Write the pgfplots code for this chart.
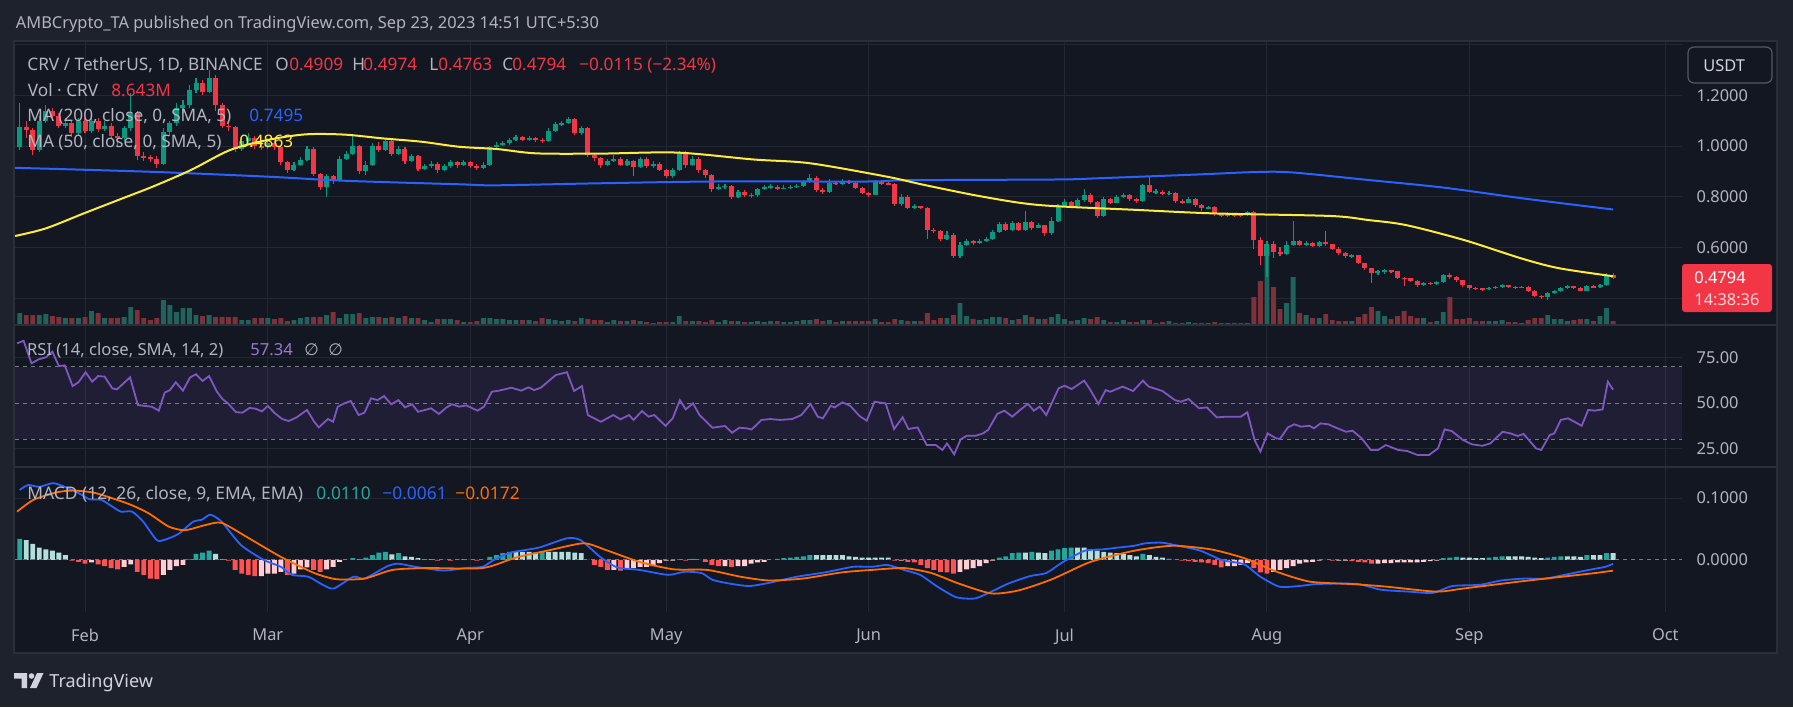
\documentclass[border=0pt]{standalone}
\usepackage{pgfplots}
\pgfplotsset{compat=1.18}
\usepackage{pgfplotstable}
\usepackage{fontspec}
\setmainfont{Noto Sans}
\newfontfamily\dejavu{DejaVu Sans}
\newcommand\fs{\fontsize{8.6pt}{10pt}\selectfont}
\newcommand\fst{\fontsize{8.2pt}{10pt}\selectfont}
\newcommand\fsp{\fontsize{8.3pt}{10pt}\selectfont}
\newcommand\fsm{\fontsize{8.7pt}{10pt}\selectfont}
\newcommand\fsk{\fontsize{8.2pt}{10pt}\selectfont}
\definecolor{outerbg}{HTML}{1E222D}
\definecolor{chartbg}{HTML}{131722}
\definecolor{gridc}{HTML}{232733}
\definecolor{sepc}{HTML}{2A2E39}
\definecolor{txt}{HTML}{B2B5BE}
\definecolor{txtl}{HTML}{D1D4DC}
\definecolor{upc}{HTML}{089981}
\definecolor{dnc}{HTML}{F23645}
\definecolor{vup}{HTML}{1F635C}
\definecolor{vdn}{HTML}{7F3139}
\definecolor{ma200}{HTML}{2962FF}
\definecolor{ma50}{HTML}{FFEB3B}
\definecolor{rsic}{HTML}{7E57C2}
\definecolor{dashc}{HTML}{787B86}
\definecolor{sigc}{HTML}{FF6D00}
\definecolor{hA}{HTML}{26A69A}
\definecolor{hB}{HTML}{B2DFDB}
\definecolor{hC}{HTML}{FF5252}
\definecolor{hD}{HTML}{FFCDD2}

\pgfplotstableread{
d o h l c v
-10 0.997 1.170 0.985 1.074 12
-9 1.074 1.100 1.030 1.063 10
-8 1.063 1.070 0.965 0.985 10
-7 0.985 1.120 0.975 1.100 10
-6 1.100 1.160 1.090 1.140 11
-5 1.140 1.150 1.100 1.120 9
-4 1.120 1.130 1.070 1.080 8
-3 1.080 1.110 1.070 1.092 7
-2 1.092 1.100 1.035 1.050 7
-1 1.050 1.110 1.040 1.100 7
0 1.100 1.110 1.050 1.060 8
1 1.060 1.120 1.050 1.100 14
2 1.100 1.110 1.055 1.068 12
3 1.068 1.100 1.060 1.080 7
4 1.080 1.090 1.030 1.040 7
5 1.040 1.050 1.000 1.030 7
6 1.030 1.080 1.020 1.070 8
7 1.070 1.210 1.060 1.130 18
8 1.130 1.140 0.945 0.962 15
9 0.962 0.975 0.940 0.955 7
10 0.955 0.965 0.935 0.950 5
11 0.950 0.960 0.915 0.930 7
12 0.930 1.070 0.925 1.055 25
13 1.055 1.100 1.040 1.090 20
14 1.090 1.170 1.080 1.150 13
15 1.150 1.180 1.130 1.160 17
16 1.160 1.240 1.150 1.220 17
17 1.220 1.270 1.210 1.250 10
18 1.250 1.260 1.200 1.215 9
19 1.215 1.300 1.210 1.270 10
20 1.270 1.280 1.140 1.160 8
21 1.160 1.170 1.070 1.080 8
22 1.080 1.100 1.060 1.075 8
23 1.075 1.080 0.975 0.990 8
24 0.990 1.030 0.980 1.020 5
25 1.020 1.050 1.010 1.030 5
26 1.030 1.040 0.990 1.000 7
27 1.000 1.020 0.985 0.995 7
28 0.995 1.020 0.990 1.010 7
29 1.010 1.020 0.985 0.995 6
30 0.995 1.000 0.925 0.935 7
31 0.935 0.940 0.895 0.905 4
32 0.905 0.935 0.900 0.925 5
33 0.925 0.955 0.920 0.945 7
34 0.945 1.000 0.940 0.990 8
35 0.990 0.995 0.880 0.890 8
36 0.890 0.895 0.825 0.840 8
37 0.840 0.890 0.800 0.880 10
38 0.880 0.885 0.850 0.865 13
39 0.865 0.960 0.860 0.950 7
40 0.950 0.980 0.945 0.970 11
41 0.970 1.040 0.965 1.000 11
42 1.000 1.005 0.890 0.900 12
43 0.900 0.940 0.885 0.925 7
44 0.925 1.010 0.920 1.000 8
45 1.000 1.015 0.975 0.985 8
46 0.985 1.030 0.980 1.020 7
47 1.020 1.025 0.960 0.970 8
48 0.970 1.000 0.965 0.990 7
49 0.990 0.995 0.930 0.940 9
50 0.940 0.970 0.935 0.960 7
51 0.960 0.965 0.900 0.910 7
52 0.910 0.930 0.905 0.920 5
53 0.920 0.940 0.915 0.930 3
54 0.930 0.935 0.895 0.905 6
55 0.905 0.930 0.900 0.920 6
56 0.920 0.945 0.915 0.935 6
57 0.935 0.940 0.915 0.925 5
58 0.925 0.945 0.920 0.935 3
59 0.935 0.940 0.915 0.922 3
60 0.922 0.930 0.905 0.915 4
61 0.915 0.935 0.910 0.925 7
62 0.925 1.000 0.920 0.995 7
63 0.995 1.015 0.990 1.005 6
64 1.005 1.020 1.000 1.012 6
65 1.012 1.030 1.005 1.024 5
66 1.024 1.045 1.020 1.035 5
67 1.035 1.040 1.020 1.025 5
68 1.025 1.040 1.020 1.030 5
69 1.030 1.035 1.015 1.025 4
70 1.025 1.030 1.010 1.020 7
71 1.020 1.070 1.015 1.060 6
72 1.060 1.095 1.055 1.085 5
73 1.085 1.100 1.080 1.090 4
74 1.090 1.115 1.085 1.105 5
75 1.105 1.110 1.045 1.050 4
76 1.050 1.080 1.045 1.072 7
77 1.072 1.075 0.955 0.965 6
78 0.965 0.970 0.940 0.952 5
79 0.952 0.955 0.915 0.925 5
80 0.925 0.950 0.920 0.940 3
81 0.940 0.965 0.935 0.950 5
82 0.950 0.955 0.920 0.925 4
83 0.925 0.950 0.920 0.940 4
84 0.940 0.945 0.882 0.918 5
85 0.918 0.955 0.915 0.950 4
86 0.950 0.955 0.915 0.920 3
87 0.920 0.940 0.915 0.930 2
88 0.930 0.935 0.900 0.905 3
89 0.905 0.910 0.875 0.882 3
90 0.882 0.915 0.875 0.905 3
91 0.905 0.980 0.900 0.974 9
92 0.974 0.980 0.915 0.925 4
93 0.925 0.960 0.920 0.950 4
94 0.950 0.955 0.895 0.905 4
95 0.905 0.910 0.875 0.885 3
96 0.885 0.890 0.820 0.830 5
97 0.830 0.850 0.825 0.840 3
98 0.840 0.850 0.830 0.843 5
99 0.843 0.845 0.790 0.800 4
100 0.800 0.825 0.795 0.818 4
101 0.818 0.825 0.800 0.805 3
102 0.805 0.815 0.795 0.807 3
103 0.807 0.835 0.800 0.830 4
104 0.830 0.845 0.825 0.838 3
105 0.838 0.850 0.830 0.840 4
106 0.840 0.845 0.825 0.832 4
107 0.832 0.845 0.830 0.836 3
108 0.836 0.845 0.830 0.838 3
109 0.838 0.850 0.835 0.843 4
110 0.843 0.865 0.840 0.858 5
111 0.858 0.890 0.855 0.872 5
112 0.872 0.880 0.820 0.826 6
113 0.826 0.835 0.810 0.820 4
114 0.820 0.870 0.815 0.855 5
115 0.855 0.860 0.845 0.850 3
116 0.850 0.870 0.845 0.862 4
117 0.862 0.865 0.850 0.855 4
118 0.855 0.860 0.830 0.835 4
119 0.835 0.840 0.810 0.815 4
120 0.815 0.820 0.800 0.808 4
121 0.808 0.865 0.805 0.860 6
122 0.860 0.865 0.845 0.852 3
123 0.852 0.860 0.845 0.850 3
124 0.850 0.855 0.765 0.771 6
125 0.771 0.810 0.765 0.800 5
126 0.800 0.805 0.750 0.755 4
127 0.755 0.770 0.750 0.762 4
128 0.762 0.765 0.750 0.757 4
129 0.757 0.760 0.635 0.669 12
130 0.669 0.675 0.655 0.665 5
131 0.665 0.668 0.625 0.632 7
132 0.632 0.665 0.630 0.650 7
133 0.650 0.655 0.560 0.566 10
134 0.566 0.620 0.560 0.609 22
135 0.609 0.635 0.605 0.625 9
136 0.625 0.630 0.610 0.620 6
137 0.620 0.632 0.615 0.625 5
138 0.625 0.640 0.620 0.633 6
139 0.633 0.670 0.628 0.662 8
140 0.662 0.700 0.655 0.692 8
141 0.692 0.700 0.665 0.670 7
142 0.670 0.705 0.665 0.695 5
143 0.695 0.700 0.665 0.670 6
144 0.670 0.745 0.665 0.700 10
145 0.700 0.705 0.670 0.676 8
146 0.676 0.695 0.675 0.688 6
147 0.688 0.690 0.645 0.655 6
148 0.655 0.720 0.650 0.705 8
149 0.705 0.770 0.700 0.763 11
150 0.763 0.790 0.760 0.780 6
151 0.780 0.785 0.755 0.765 4
152 0.765 0.795 0.760 0.787 5
153 0.787 0.830 0.780 0.807 7
154 0.807 0.815 0.770 0.780 6
155 0.780 0.785 0.715 0.724 8
156 0.724 0.800 0.720 0.790 5
157 0.790 0.795 0.770 0.777 3
158 0.777 0.805 0.775 0.800 3
159 0.800 0.815 0.795 0.806 5
160 0.806 0.810 0.785 0.790 3
161 0.790 0.795 0.775 0.784 3
162 0.784 0.850 0.780 0.846 5
163 0.846 0.882 0.815 0.820 5
164 0.820 0.830 0.812 0.820 2
165 0.820 0.825 0.805 0.813 3
166 0.813 0.822 0.805 0.814 4
167 0.814 0.818 0.775 0.783 2
168 0.783 0.790 0.770 0.777 2
169 0.777 0.800 0.775 0.790 3
170 0.790 0.795 0.760 0.767 2
171 0.767 0.770 0.745 0.754 2
172 0.754 0.765 0.750 0.760 2
173 0.760 0.765 0.725 0.732 3
174 0.732 0.735 0.720 0.726 2
175 0.726 0.740 0.720 0.730 2
176 0.730 0.735 0.720 0.729 2
177 0.729 0.735 0.720 0.726 2
178 0.726 0.745 0.725 0.740 2
179 0.740 0.745 0.594 0.630 28
180 0.630 0.640 0.530 0.566 44
181 0.566 0.625 0.484 0.614 80
182 0.614 0.625 0.560 0.582 38
183 0.582 0.600 0.565 0.575 16
184 0.575 0.625 0.570 0.610 22
185 0.610 0.706 0.605 0.625 48
186 0.625 0.630 0.605 0.610 12
187 0.610 0.625 0.605 0.617 10
188 0.617 0.620 0.600 0.605 7
189 0.605 0.625 0.600 0.620 7
190 0.620 0.664 0.605 0.612 11
191 0.612 0.615 0.590 0.594 5
192 0.594 0.600 0.570 0.576 4
193 0.576 0.580 0.560 0.566 4
194 0.566 0.575 0.560 0.570 4
195 0.570 0.572 0.535 0.539 8
196 0.539 0.540 0.510 0.520 11
197 0.520 0.520 0.460 0.500 18
198 0.500 0.510 0.490 0.505 14
199 0.505 0.515 0.495 0.510 9
200 0.510 0.512 0.500 0.505 6
201 0.505 0.508 0.475 0.480 9
202 0.480 0.482 0.448 0.478 14
203 0.478 0.480 0.462 0.468 9
204 0.468 0.470 0.445 0.450 7
205 0.450 0.465 0.448 0.460 7
206 0.460 0.462 0.450 0.456 3
207 0.456 0.468 0.452 0.464 4
208 0.464 0.495 0.460 0.490 13
209 0.490 0.500 0.475 0.484 28
210 0.484 0.488 0.465 0.470 6
211 0.470 0.473 0.445 0.450 6
212 0.450 0.452 0.432 0.440 7
213 0.440 0.443 0.432 0.438 4
214 0.438 0.440 0.430 0.436 4
215 0.436 0.445 0.432 0.440 4
216 0.440 0.448 0.437 0.444 4
217 0.444 0.455 0.440 0.450 5
218 0.450 0.452 0.440 0.444 3
219 0.444 0.447 0.436 0.441 3
220 0.441 0.448 0.438 0.445 2
221 0.445 0.448 0.425 0.430 5
222 0.430 0.432 0.405 0.410 7
223 0.410 0.412 0.398 0.404 7
224 0.404 0.425 0.392 0.420 10
225 0.420 0.432 0.415 0.428 6
226 0.428 0.443 0.425 0.440 6
227 0.440 0.450 0.437 0.446 4
228 0.446 0.449 0.436 0.441 5
229 0.441 0.443 0.427 0.430 6
230 0.430 0.452 0.428 0.448 6
231 0.448 0.450 0.440 0.443 4
232 0.443 0.455 0.440 0.4515 9
233 0.4515 0.500 0.448 0.4909 17
234 0.4909 0.4974 0.4763 0.4794 4
}\candles

\pgfplotstableread{
d p
-10.7 0.914
10.4 0.898
28 0.879
39.7 0.863
57.3 0.849
63 0.845
78.9 0.853
96.5 0.860
120 0.860
125.7 0.865
149 0.868
155.4 0.873
170.7 0.888
178.9 0.897
184.7 0.896
196.5 0.866
208 0.836
220 0.794
234 0.7495
}\matwo

\pgfplotstableread{
d p
-10.7 0.645
-6 0.675
-0.2 0.734
5.7 0.793
10.4 0.840
16.2 0.905
22.2 0.984
28 1.024
33.8 1.046
39.7 1.045
45.6 1.030
51.5 1.017
57.3 0.997
63.1 0.988
69.1 0.971
78.9 0.970
90.7 0.974
102.3 0.947
111 0.932
122.8 0.879
128.6 0.846
137.5 0.800
146.2 0.767
161 0.748
173 0.734
190.7 0.724
196.5 0.708
202.3 0.688
211.2 0.629
219.9 0.557
225.7 0.518
234 0.4863
}\mafive

\pgfplotstableread{
d v
-10.4 82.8
-9.4 84.2
-8.2 71.8
-7.1 74.0
-6.0 75.1
-5.0 78.2
-4.0 70.3
-3.1 70.7
-1.9 59.3
-1.0 61.4
0.1 66.9
1.1 61.7
2.0 64.8
3.0 64.5
4.2 58.0
4.9 57.5
6.9 64.1
8.1 48.9
9.2 48.4
10.2 48.0
11.3 45.8
12.2 55.7
13.0 57.1
13.9 61.4
15.0 56.8
16.1 64.1
17.0 65.8
18.0 62.1
19.0 64.8
20.2 56.2
21.1 52.0
21.9 49.8
23.1 45.0
24.1 44.7
25.2 47.3
26.1 46.9
27.1 45.4
28.0 48.4
29.1 44.3
30.2 41.2
31.2 40.1
32.4 42.1
34.0 46.2
35.1 39.7
35.8 36.6
37.2 41.2
38.0 39.7
38.7 48.0
39.7 49.8
40.7 51.1
41.9 43.4
42.8 44.7
43.8 52.6
44.8 51.6
45.8 53.8
46.9 49.3
48.0 51.6
49.0 47.6
50.1 49.3
51.0 45.2
52.1 46.2
53.0 47.1
54.2 44.0
55.3 47.4
56.2 49.3
57.3 48.0
58.4 48.7
60.1 45.8
61.1 48.0
62.3 56.2
63.4 56.8
65.3 58.4
66.8 56.8
67.9 58.6
68.8 57.1
69.8 58.4
72.1 65.4
73.8 66.9
74.9 56.6
76.1 59.3
77.0 43.4
79.0 39.7
80.9 43.4
82.0 41.0
83.3 43.4
84.0 40.7
85.3 45.6
86.3 42.5
87.2 43.4
88.9 37.4
90.0 41.6
91.1 51.6
92.0 46.5
93.1 49.8
94.1 43.4
96.1 36.4
98.0 37.4
99.1 33.7
100.2 36.4
101.3 36.1
102.1 35.5
103.6 40.7
105.0 41.2
106.4 40.7
108.3 41.2
109.7 43.4
111.1 49.5
112.2 42.5
113.0 41.6
114.2 48.5
114.8 47.6
116.0 50.4
117.2 48.4
118.6 42.9
119.7 40.3
120.9 50.7
122.6 49.8
123.9 35.7
125.2 42.1
126.1 35.7
127.5 36.6
128.9 26.9
130.3 26.9
131.3 24.2
132.0 27.8
133.1 21.8
134.1 30.0
135.0 32.0
136.4 32.0
137.5 33.3
138.3 35.2
139.7 44.0
140.8 45.8
142.0 42.5
143.3 46.5
144.4 49.5
145.3 45.8
146.2 48.0
147.2 43.4
149.1 58.1
150.0 59.5
151.1 57.7
153.0 62.3
153.8 58.1
155.2 49.5
156.3 57.1
157.0 56.2
158.9 59.0
160.5 56.6
162.0 62.3
162.9 59.0
165.0 56.6
166.9 51.6
167.8 50.7
169.0 52.2
170.6 47.1
171.8 47.6
173.3 42.1
174.8 42.5
177.0 42.5
178.0 44.9
179.1 29.7
180.0 23.3
181.1 33.3
182.4 30.6
183.0 30.3
184.2 36.6
185.2 38.3
186.2 37.0
187.5 37.5
188.2 36.1
189.2 38.8
190.4 38.3
191.8 36.1
193.1 34.2
194.1 34.8
195.5 30.6
196.9 24.2
198.0 24.2
199.2 26.9
201.1 24.2
202.5 23.6
204.1 21.4
205.8 21.4
207.2 25.1
208.2 35.5
209.3 34.6
211.0 29.7
212.4 27.3
214.0 26.5
215.2 27.8
217.1 34.2
218.3 33.3
219.4 31.9
220.3 33.0
222.2 25.1
223.0 24.2
224.3 32.4
225.0 33.3
226.0 40.7
227.1 41.6
229.2 37.5
230.2 46.2
231.2 45.8
232.4 46.5
233.2 61.7
234.0 57.34
}\rsi

\pgfplotstableread{
d m
-10 0.113
-8.7 0.121
-7 0.118
-4.9 0.124
-3.1 0.118
-1 0.108
0.7 0.098
2.5 0.097
4.2 0.086
5.5 0.078
7.2 0.078
8.9 0.062
11 0.032
12.3 0.033
14.3 0.042
16.6 0.062
17.9 0.065
19.2 0.073
20.9 0.062
23.9 0.024
27.4 0.000
30 -0.011
31.7 -0.024
34.2 -0.027
36.4 -0.040
38.1 -0.046
41.1 -0.027
42.8 -0.030
46.3 -0.010
48 -0.006
50.6 -0.011
54.9 -0.017
58.3 -0.013
60.9 -0.011
62.6 0.000
65.2 0.012
69.5 0.020
73.8 0.035
75.9 0.032
78.9 0.005
81.5 -0.012
84.9 -0.016
89.3 -0.024
91.8 -0.019
94.4 -0.021
96.1 -0.032
98.7 -0.038
101.7 -0.042
104.7 -0.037
109 -0.027
113.3 -0.020
117.6 -0.011
120.5 -0.011
122.9 -0.008
125.4 -0.016
127.9 -0.024
130.4 -0.042
133.4 -0.060
136.3 -0.062
138.8 -0.051
141.4 -0.038
144.7 -0.026
147.2 -0.021
149.8 -0.003
153.1 0.015
155.7 0.017
158.2 0.020
160.7 0.023
162.4 0.027
164.9 0.028
167.4 0.023
170.8 0.015
174.1 0.000
177.5 -0.007
180 -0.027
182.9 -0.043
185.9 -0.042
188.4 -0.039
191.7 -0.038
195.1 -0.039
198.5 -0.048
202.7 -0.051
206.4 -0.053
209.4 -0.042
213.6 -0.040
216.9 -0.033
220.3 -0.030
223.6 -0.030
227 -0.023
230.3 -0.016
232.8 -0.011
234 -0.0061
}\macd

\pgfplotstableread{
d s
-10.4 0.078
-7.9 0.097
-4.4 0.109
-1.8 0.112
1.6 0.108
6.8 0.090
9.8 0.075
12.8 0.054
15.3 0.048
18.3 0.056
20.9 0.060
24.8 0.037
30 0.005
35.1 -0.021
38.5 -0.031
42.8 -0.030
47.1 -0.016
52.3 -0.013
60.9 -0.013
66 0.004
71.2 0.016
76.4 0.027
79.8 0.016
84.9 -0.003
90.1 -0.015
95.3 -0.016
100.4 -0.027
104.7 -0.033
109.9 -0.030
115.9 -0.020
120.5 -0.016
125.4 -0.013
129.6 -0.021
133.8 -0.038
138.8 -0.054
143 -0.049
148.1 -0.031
154 -0.003
160.7 0.015
166.6 0.023
172.5 0.017
177.5 0.003
182.5 -0.019
187.6 -0.035
194.3 -0.039
199.3 -0.043
206.9 -0.051
211.1 -0.046
219.5 -0.035
226.2 -0.027
231.3 -0.021
234 -0.0172
}\sig

\pgfplotstableread{
d h k
-10 0.034 0
-9 0.032 1
-8 0.026 1
-7 0.020 1
-6 0.017 1
-5 0.015 1
-4 0.012 1
-3 0.008 1
-2 -0.001 2
-1 -0.003 2
0 -0.006 2
1 -0.004 3
2 -0.007 2
3 -0.010 2
4 -0.013 2
5 -0.015 2
6 -0.011 3
7 -0.007 3
8 -0.019 2
9 -0.024 2
10 -0.030 2
11 -0.031 2
12 -0.024 3
13 -0.016 3
14 -0.010 3
15 -0.008 3
16 0.001 0
17 0.010 0
18 0.012 0
19 0.015 0
20 0.010 1
21 0.001 1
22 -0.001 2
23 -0.016 2
24 -0.022 2
25 -0.024 2
26 -0.026 2
27 -0.026 3
28 -0.022 3
29 -0.022 3
30 -0.019 3
31 -0.024 2
32 -0.022 3
33 -0.015 3
34 -0.012 3
35 -0.016 2
36 -0.019 2
37 -0.015 3
38 -0.011 3
39 -0.003 3
40 0.000 0
41 0.003 0
42 0.001 1
43 0.004 0
44 0.008 0
45 0.012 0
46 0.013 0
47 0.009 1
48 0.011 0
49 0.006 1
50 0.005 1
51 0.003 1
52 0.001 1
53 0.001 1
54 -0.001 2
55 0.000 0
56 -0.001 2
57 0.001 0
58 0.001 1
59 0.000 1
60 -0.001 2
61 0.000 0
62 0.005 0
63 0.008 0
64 0.011 0
65 0.013 0
66 0.013 1
67 0.013 1
68 0.013 1
69 0.012 1
70 0.013 0
71 0.013 1
72 0.013 1
73 0.013 1
74 0.013 1
75 0.012 1
76 0.011 1
77 0.000 1
78 -0.008 2
79 -0.011 2
80 -0.016 2
81 -0.016 3
82 -0.017 2
83 -0.013 3
84 -0.013 3
85 -0.011 3
86 -0.011 3
87 -0.010 3
88 -0.005 3
89 -0.001 3
90 -0.001 3
91 0.001 0
92 -0.001 2
93 0.002 0
94 0.000 1
95 -0.003 2
96 -0.008 2
97 -0.010 2
98 -0.010 3
99 -0.011 2
100 -0.010 3
101 -0.010 3
102 -0.006 3
103 -0.004 3
104 -0.003 3
105 0.000 0
106 0.002 0
107 0.003 0
108 0.004 0
109 0.005 0
110 0.006 0
111 0.008 0
112 0.008 1
113 0.008 1
114 0.008 1
115 0.008 1
116 0.008 1
117 0.006 1
118 0.005 1
119 0.004 1
120 0.004 1
121 0.004 1
122 0.004 1
123 0.004 1
124 -0.001 2
125 -0.001 3
126 -0.003 2
127 -0.004 2
128 -0.008 2
129 -0.013 2
130 -0.016 2
131 -0.019 2
132 -0.020 2
133 -0.022 2
134 -0.019 3
135 -0.015 3
136 -0.013 3
137 -0.010 3
138 -0.005 3
139 -0.001 3
140 0.004 0
141 0.006 0
142 0.011 0
143 0.012 0
144 0.012 1
145 0.013 0
146 0.012 1
147 0.011 1
148 0.015 0
149 0.017 0
150 0.019 0
151 0.020 0
152 0.020 1
153 0.020 1
154 0.016 1
155 0.015 1
156 0.013 1
157 0.012 1
158 0.011 1
159 0.010 1
160 0.008 1
161 0.006 1
162 0.010 0
163 0.008 1
164 0.005 1
165 0.004 1
166 0.002 1
167 0.000 1
168 -0.001 2
169 -0.002 2
170 -0.003 2
171 -0.004 2
172 -0.005 2
173 -0.008 2
174 -0.012 2
175 -0.010 3
176 -0.010 3
177 -0.008 3
178 -0.005 3
179 -0.013 2
180 -0.020 2
181 -0.022 2
182 -0.019 3
183 -0.016 3
184 -0.013 3
185 -0.010 3
186 -0.006 3
187 -0.004 3
188 -0.003 3
189 -0.001 3
190 0.000 0
191 -0.001 2
192 -0.001 3
193 -0.001 3
194 -0.002 2
195 -0.003 2
196 -0.004 2
197 -0.006 2
198 -0.006 3
199 -0.005 3
200 -0.005 3
201 -0.004 3
202 -0.004 3
203 -0.004 3
204 -0.004 3
205 -0.003 3
206 -0.002 3
207 -0.001 3
208 0.003 0
209 0.004 0
210 0.005 0
211 0.004 1
212 0.004 1
213 0.003 1
214 0.003 1
215 0.004 0
216 0.005 0
217 0.006 0
218 0.006 1
219 0.006 1
220 0.006 1
221 0.005 1
222 0.004 1
223 0.003 1
224 0.004 0
225 0.005 0
226 0.006 0
227 0.006 1
228 0.006 1
229 0.005 1
230 0.008 0
231 0.008 1
232 0.008 1
233 0.011 0
234 0.011 1
}\hist

\pgfplotsset{
  tvbase/.style={scale only axis, width=833.5pt, xmin=-10.72, xmax=244.56,
    anchor=south west, axis line style={draw=none}, tick style={draw=none},
    major tick length=0pt, xtick={0,28,59,89,120,150,181,212,242}, xticklabels={},
    ticklabel style={font=\fsk, text=txt}, yticklabel pos=right,
    yticklabel style={anchor=west, xshift=3.8pt}, clip=true},
  tvgrid/.style={xmajorgrids, ymajorgrids, major grid style={draw=gridc, line width=0.5pt}},
  bare/.style={xtick=\empty, ytick=\empty},
  wick/.style={draw=none, mark=none, unbounded coords=discard,
    error bars/.cd, y dir=both, y explicit, error mark=none,
    error bar style={draw=#1, line width=0.55pt}},
  body/.style={draw=none, mark=none, unbounded coords=discard,
    error bars/.cd, y dir=both, y explicit, error mark=none,
    error bar style={draw=#1, line width=2.5pt}},
  hbar/.style={ybar, bar width=0.75, bar shift=0pt, draw=none, fill=#1, unbounded coords=discard},
}

\begin{document}
\begin{tikzpicture}
\useasboundingbox (0,0) rectangle (896.5pt,-353.5pt);
\begin{scope}[x=0.5pt,y=-0.5pt]
\fill[outerbg] (0,0) rectangle (1793,707);
\fill[chartbg] (14,41) rectangle (1777,653);
\end{scope}

% price pane: grid and scale
\begin{axis}[tvbase, tvgrid, at={(7.5pt,-162.5pt)}, height=142pt,
  ymin=0.2939, ymax=1.4142, ytick={0.4,0.6,0.8,1,1.2,1.4},
  yticklabels={,0.6000,0.8000,1.0000,1.2000,}]
\addplot[draw=none] coordinates {(0,1)};
\end{axis}

% volume
\begin{axis}[tvbase, bare, at={(7.5pt,-162.5pt)}, height=142pt, ymin=0, ymax=284]
\addplot[hbar=vup] table[x=d, y expr={\thisrow{c}>=\thisrow{o} ? \thisrow{v} : nan}] {\candles};
\addplot[hbar=vdn] table[x=d, y expr={\thisrow{c}<\thisrow{o} ? \thisrow{v} : nan}] {\candles};
\end{axis}

% candles and moving averages
\begin{axis}[tvbase, bare, at={(7.5pt,-162.5pt)}, height=142pt, ymin=0.2939, ymax=1.4142]
\addplot[wick=upc] table[x=d, y expr={\thisrow{c}>=\thisrow{o} ? (\thisrow{h}+\thisrow{l})/2 : nan}, y error expr={(\thisrow{h}-\thisrow{l})/2}] {\candles};
\addplot[wick=dnc] table[x=d, y expr={\thisrow{c}<\thisrow{o} ? (\thisrow{h}+\thisrow{l})/2 : nan}, y error expr={(\thisrow{h}-\thisrow{l})/2}] {\candles};
\addplot[body=upc] table[x=d, y expr={\thisrow{c}>=\thisrow{o} ? (\thisrow{o}+\thisrow{c})/2 : nan}, y error expr={max(abs(\thisrow{c}-\thisrow{o})/2,0.002)}] {\candles};
\addplot[body=dnc] table[x=d, y expr={\thisrow{c}<\thisrow{o} ? (\thisrow{o}+\thisrow{c})/2 : nan}, y error expr={max(abs(\thisrow{c}-\thisrow{o})/2,0.002)}] {\candles};
\addplot[ma200, line width=1pt, smooth, tension=0.5] table[x=d,y=p] {\matwo};
\addplot[ma50, line width=1pt, smooth, tension=0.5] table[x=d,y=p] {\mafive};
\end{axis}

% RSI pane
\begin{axis}[tvbase, tvgrid, at={(7.5pt,-233.5pt)}, height=71pt,
  ymin=14.84, ymax=92.86, ytick={25,75}, yticklabels={25.00,75.00},
  extra y ticks={50}, extra y tick labels={50.00}, extra y tick style={grid=none}]
\fill[rsic, fill opacity=0.12] (axis cs:-10.72,30) rectangle (axis cs:244.56,70);
\draw[dashc, line width=0.5pt, dash pattern=on 2pt off 2pt] (axis cs:-10.72,70) -- (axis cs:244.56,70);
\draw[dashc, line width=0.5pt, dash pattern=on 2pt off 2pt] (axis cs:-10.72,50) -- (axis cs:244.56,50);
\draw[dashc, line width=0.5pt, dash pattern=on 2pt off 2pt] (axis cs:-10.72,30) -- (axis cs:244.56,30);
\addplot[rsic, line width=0.9pt] table[x=d,y=v] {\rsi};
\end{axis}

% MACD pane
\begin{axis}[tvbase, tvgrid, at={(7.5pt,-306pt)}, height=72.5pt,
  ymin=-0.0839, ymax=0.15, ytick={0.1}, yticklabels={0.1000},
  extra y ticks={0}, extra y tick labels={0.0000}, extra y tick style={grid=none},
  xticklabels={Feb,Mar,Apr,May,Jun,Jul,Aug,Sep,Oct},
  xticklabel style={yshift=-4.8pt}]
\addplot[hbar=hA] table[x=d, y expr={\thisrow{k}==0 ? \thisrow{h} : nan}] {\hist};
\addplot[hbar=hB] table[x=d, y expr={\thisrow{k}==1 ? \thisrow{h} : nan}] {\hist};
\addplot[hbar=hC] table[x=d, y expr={\thisrow{k}==2 ? \thisrow{h} : nan}] {\hist};
\addplot[hbar=hD] table[x=d, y expr={\thisrow{k}==3 ? \thisrow{h} : nan}] {\hist};
\draw[dashc, line width=0.5pt, dash pattern=on 2pt off 2pt] (axis cs:-10.72,0) -- (axis cs:244.56,0);
\addplot[ma200, line width=0.9pt, smooth, tension=0.4] table[x=d,y=m] {\macd};
\addplot[sigc, line width=0.9pt, smooth, tension=0.4] table[x=d,y=s] {\sig};
\end{axis}

\begin{scope}[x=0.5pt,y=-0.5pt]
% separators and frame
\draw[sepc, line width=0.8pt] (14,325) -- (1777,325);
\draw[sepc, line width=0.8pt] (14,467) -- (1777,467);
\draw[sepc, line width=0.6pt] (14,41) rectangle (1777,653);
% header
\node[anchor=base west, inner sep=0pt, text=txt] at (15.5,28.3) {\fst AMBCrypto\_TA published on TradingView.com, Sep 23, 2023 14:51 UTC+5:30};
% legend rows
\node[anchor=base west, inner sep=0pt, text=txt] at (27,70.5) {\fs CRV / TetherUS, 1D, BINANCE};
\node[anchor=base west, inner sep=0pt, text=txt] at (275,70.5) {\fs O};
\node[anchor=base west, inner sep=0pt, text=dnc] at (289,70.5) {\fs 0.4909};
\node[anchor=base west, inner sep=0pt, text=txt] at (352,70.5) {\fs H};
\node[anchor=base west, inner sep=0pt, text=dnc] at (363,70.5) {\fs 0.4974};
\node[anchor=base west, inner sep=0pt, text=txt] at (429,70.5) {\fs L};
\node[anchor=base west, inner sep=0pt, text=dnc] at (438,70.5) {\fs 0.4763};
\node[anchor=base west, inner sep=0pt, text=txt] at (502,70.5) {\fs C};
\node[anchor=base west, inner sep=0pt, text=dnc] at (512,70.5) {\fs 0.4794};
\node[anchor=base west, inner sep=0pt, text=dnc] at (579,70.5) {\fs −0.0115};
\node[anchor=base west, inner sep=0pt, text=dnc] at (647,70.5) {\fs (−2.34\%)};
\node[anchor=base west, inner sep=0pt, text=txt] at (27.5,96) {\fs Vol · CRV};
\node[anchor=base west, inner sep=0pt, text=dnc] at (111,96) {\fs 8.643M};
\node[anchor=base west, inner sep=0pt, text=txt] at (27,121.5) {\fs MA (200, close, 0, SMA, 5)};
\node[anchor=base west, inner sep=0pt, text=ma200] at (249,121.5) {\fs 0.7495};
\node[anchor=base west, inner sep=0pt, text=txt] at (27,147.3) {\fs MA (50, close, 0, SMA, 5)};
\node[anchor=base west, inner sep=0pt, text=ma50] at (239,147.3) {\fs 0.4863};
% RSI legend
\node[anchor=base west, inner sep=0pt, text=txt] at (26.7,355) {\fsp RSI (14, close, SMA, 14, 2)};
\node[anchor=base west, inner sep=0pt, text=rsic!80!white] at (250,355) {\fsp 57.34};
\node[anchor=base west, inner sep=0pt, text=txt] at (304,355) {\fsp\dejavu ∅};
\node[anchor=base west, inner sep=0pt, text=txt] at (328,355) {\fsp\dejavu ∅};
% MACD legend
\node[anchor=base west, inner sep=0pt, text=txt] at (27,499.3) {\fsm MACD (12, 26, close, 9, EMA, EMA)};
\node[anchor=base west, inner sep=0pt, text=hA] at (316,499.3) {\fsm 0.0110};
\node[anchor=base west, inner sep=0pt, text=ma200] at (382,499.3) {\fsm −0.0061};
\node[anchor=base west, inner sep=0pt, text=sigc] at (455,499.3) {\fsm −0.0172};
% currency box
\draw[draw=sepc!80!white, fill=chartbg, line width=0.6pt, rounded corners=3pt] (1688,47) rectangle (1772,83);
\node[anchor=base west, inner sep=0pt, text=txtl] at (1703,71.7) {\fsk USDT};
% last price label
\fill[dnc, rounded corners=1.5pt] (1682,264) rectangle (1772,312);
\node[anchor=base west, inner sep=0pt, text=white] at (1694,283.3) {\fsk\bfseries 0.4794};
\node[anchor=base west, inner sep=0pt, text=white!80!dnc] at (1694,305) {\fsk 14:38:36};
% TradingView logo
\fill[txtl] (14,673) -- (27,673) -- (27,688) -- (21.5,688) -- (21.5,678.5) -- (14,678.5) -- cycle;
\fill[txtl] (31.5,676) circle (2.8);
\fill[txtl] (37,673) -- (43.5,673) -- (36.5,688) -- (30,688) -- cycle;
\node[anchor=base west, inner sep=0pt, text=txtl] at (49,687.5) {\fontsize{9pt}{11pt}\selectfont\bfseries TradingView};
\end{scope}
\end{tikzpicture}
\end{document}
